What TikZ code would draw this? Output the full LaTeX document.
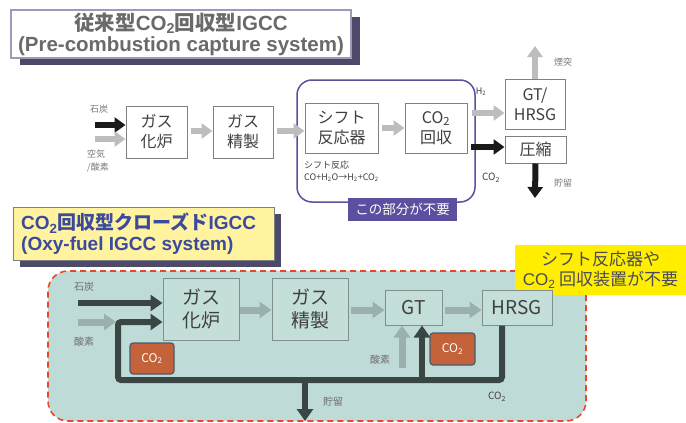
\documentclass[tikz,border=0pt]{standalone}
\usepackage{fontspec}
\setmainfont{Noto Sans CJK JP}
\newfontfamily\lat{Liberation Sans}
\usetikzlibrary{arrows.meta}
\definecolor{boxgray}{HTML}{808080}
\definecolor{agray}{HTML}{BDBDBD}
\definecolor{ablack}{HTML}{1A1A1A}
\definecolor{txtgray}{HTML}{7A7A7A}
\definecolor{ttxt}{HTML}{6A6A6A}
\definecolor{purp}{HTML}{5B4FA0}
\definecolor{tborder}{HTML}{9C9AB8}
\definecolor{tshadow}{HTML}{4C4A68}
\definecolor{tealfill}{HTML}{BFDBD7}
\definecolor{tealbox}{HTML}{C4DEDA}
\definecolor{tealedge}{HTML}{7F8F8C}
\definecolor{redash}{HTML}{E8482A}
\definecolor{pipe}{HTML}{3A4644}
\definecolor{tarrow}{HTML}{9AB0AC}
\definecolor{orangeco}{HTML}{C4623A}
\definecolor{coedge}{HTML}{4A5A70}
\definecolor{ytitle}{HTML}{FFF3A0}
\definecolor{ynote}{HTML}{FFEE00}
\definecolor{bluetxt}{HTML}{3B4A9C}
\definecolor{notetxt}{HTML}{4A4A5A}
\definecolor{btxt}{HTML}{404040}
\newcommand\fsz[2]{\fontsize{#1}{#2}\selectfont}
\newcommand\two{\textsubscript{2}}
\tikzset{
  topbox/.style={draw=boxgray, line width=1pt, fill=white, align=center, inner sep=0pt, text=btxt, font=\fsz{16pt}{20pt}},
  botbox/.style={draw=tealedge, line width=1pt, fill=tealbox, align=center, inner sep=0pt, text=btxt, font=\fsz{19pt}{23pt}},
  lbl/.style={text=txtgray, font=\fsz{9pt}{13pt}, inner sep=0pt, align=left},
  blbl/.style={text=txtgray!90!black, font=\fsz{10pt}{13pt}, inner sep=0pt},
  garrow/.style={draw=agray, line width=6pt, -{Triangle[width=15pt,length=11pt]}},
  karrow/.style={draw=ablack, line width=6pt, -{Triangle[width=15pt,length=11pt]}},
  tarr/.style={draw=tarrow, line width=7pt, -{Triangle[width=16pt,length=12pt]}},
  parr/.style={draw=pipe, line width=6pt, -{Triangle[width=16pt,length=12pt]}},
  cobox/.style={draw=coedge, line width=1.2pt, fill=orangeco, rounded corners=3pt, text=white, font=\fsz{12pt}{14pt}, inner sep=0pt},
}
\begin{document}
\begin{tikzpicture}[x=1pt,y=-1pt]
\useasboundingbox (0,0) rectangle (686,423);
\fill[white] (0,0) rectangle (686,423);

% ---------- Title 1 ----------
\fill[tshadow] (20,17) rectangle (360,65);
\node[draw=tborder, line width=1.5pt, fill=white, minimum width=340pt, minimum height=48pt, inner sep=0pt, align=center, text=ttxt, font=\bfseries\fsz{20.5pt}{21pt}] (title1) at (181,34) {従来型{\lat CO\two}回収型{\lat IGCC}\\{\lat (Pre-combustion capture system)}};

% ---------- Top process ----------
\node[draw=purp, line width=1.5pt, rounded corners=15pt, minimum width=178pt, minimum height=122pt, inner sep=0pt] (unneeded) at (386,141) {};
\node[topbox, minimum width=61pt, minimum height=52pt] (gas1) at (156.5,132) {ガス\\化炉};
\node[topbox, minimum width=60pt, minimum height=52pt] (ref1) at (243,132) {ガス\\精製};
\node[topbox, minimum width=73pt, minimum height=50pt] (shift) at (341.5,128) {シフト\\反応器};
\node[topbox, minimum width=62pt, minimum height=50pt] (rec) at (436,128) {CO\two\\回収};
\node[topbox, minimum width=60pt, minimum height=50pt] (gths) at (535,104) {GT/\\HRSG};
\node[topbox, minimum width=61pt, minimum height=27pt] (comp) at (535.5,149.5) {圧縮};
\node[fill=purp, text=white, minimum width=109pt, minimum height=23pt, inner sep=0pt, font=\fsz{13.5pt}{15pt}] (notneed) at (402.5,209) {この部分が不要};

\node[lbl] (coal1) at (99,109) {石炭};
\node[lbl] (air1) at (98,161) {空気\\/酸素};
\node[text=btxt, font=\fsz{9pt}{12pt}, inner sep=0pt, anchor=west, align=left] (react) at (304,171) {シフト反応\\CO+H\two O→H\two+CO\two};
\node[lbl, text=btxt] (h2) at (481,92) {H\two};
\node[blbl, text=btxt] (co2t) at (491,178) {CO\two};
\node[lbl] (smoke) at (563,62) {煙突};
\node[lbl] (store1) at (563,183) {貯留};

\coordinate (c1) at (95,125);
\coordinate (a1) at (95,139);
\coordinate (hs) at (472,113);
\coordinate (cs) at (471,147);
\coordinate (up) at (535,46);
\coordinate (dn) at (535,198);
\draw[karrow] (c1) -- (gas1.west |- c1);
\draw[garrow] (a1) -- (gas1.west |- a1);
\draw[garrow, shorten <=3pt] (gas1.east |- 0,131) -- (ref1.west |- 0,131);
\draw[garrow, shorten <=3pt] (ref1.east |- 0,131) -- (shift.west |- 0,131);
\draw[garrow, shorten <=3pt] (shift.east) -- (rec.west);
\draw[garrow] (hs) -- (gths.west |- hs);
\draw[karrow] (cs) -- (comp.west |- cs);
\draw[garrow] (gths.north) -- (up);
\draw[karrow] (comp.south) -- (dn);

% ---------- Bottom section ----------
\node[draw=redash, line width=1.6pt, dash pattern=on 6pt off 4pt, fill=tealfill, rounded corners=20pt, minimum width=538pt, minimum height=150pt, inner sep=0pt] (closed) at (317,346) {};

\fill[tshadow] (20,214) rectangle (281,267);
\node[draw=boxgray, line width=1pt, fill=ytitle, minimum width=261pt, minimum height=53pt, inner sep=0pt] (title2) at (143.5,233.5) {};
\node[anchor=west, align=left, inner sep=0pt, text=bluetxt, font=\bfseries\fsz{19pt}{21pt}] (title2t) at (21,234) {{\lat CO\two}回収型クローズド{\lat IGCC}\\{\lat (Oxy-fuel IGCC system)}};

\node[fill=ynote, minimum width=171pt, minimum height=50pt, inner sep=0pt, align=center, text=notetxt, font=\fsz{17pt}{20pt}] (note) at (600.5,270) {シフト反応器や\\{\lat CO\two} 回収装置が不要};

\node[botbox, minimum width=76pt, minimum height=62pt] (gas2) at (201,309) {ガス\\化炉};
\node[botbox, minimum width=76pt, minimum height=62pt] (ref2) at (310,309) {ガス\\精製};
\node[botbox, minimum width=57pt, minimum height=35pt] (gt2) at (413.5,307.5) {GT};
\node[botbox, minimum width=70pt, minimum height=35pt] (hrsg2) at (517,307.5) {HRSG};

\node[blbl] (coal2) at (84,287) {石炭};
\node[blbl] (ox2) at (84,342) {酸素};
\node[blbl] (ox3) at (380,360) {酸素};
\node[blbl] (store2) at (333,402) {貯留};
\node[blbl, text=btxt] (co2b) at (497,397) {CO\two};

\coordinate (c2) at (78,303);
\coordinate (o2) at (78,322);
\coordinate (o2e) at (116,322);
\coordinate (pd) at (502,380);
\coordinate (pl) at (118,380);
\coordinate (pu) at (118,322);
\coordinate (bg) at (422,380);
\coordinate (bs) at (305,380);
\coordinate (bse) at (305,421);
\coordinate (og) at (402,368);

\draw[tarr] (gas2.east |- 0,310) -- (ref2.west |- 0,310);
\draw[tarr, shorten <=2pt] (ref2.east |- 0,310) -- (gt2.west |- 0,310);
\draw[tarr, shorten <=2pt] (gt2.east |- 0,310) -- (hrsg2.west |- 0,310);
\draw[tarr] (o2) -- (o2e);
\draw[tarr] (og) -- (og |- gt2.south);
\draw[parr] (c2) -- (gas2.west |- c2);
\draw[parr, rounded corners=3pt] (hrsg2.south -| pd) -- (pd) -- (pl) -- (pu) -- (gas2.west |- pu);
\draw[parr] (bg) -- (bg |- gt2.south);
\draw[parr] (bs) -- (bse);

\node[cobox, minimum width=44pt, minimum height=31pt] (co2a) at (152,358.5) {CO\two};
\node[cobox, minimum width=45pt, minimum height=32pt] (co2c) at (452.5,349) {CO\two};
\end{tikzpicture}
\end{document}
